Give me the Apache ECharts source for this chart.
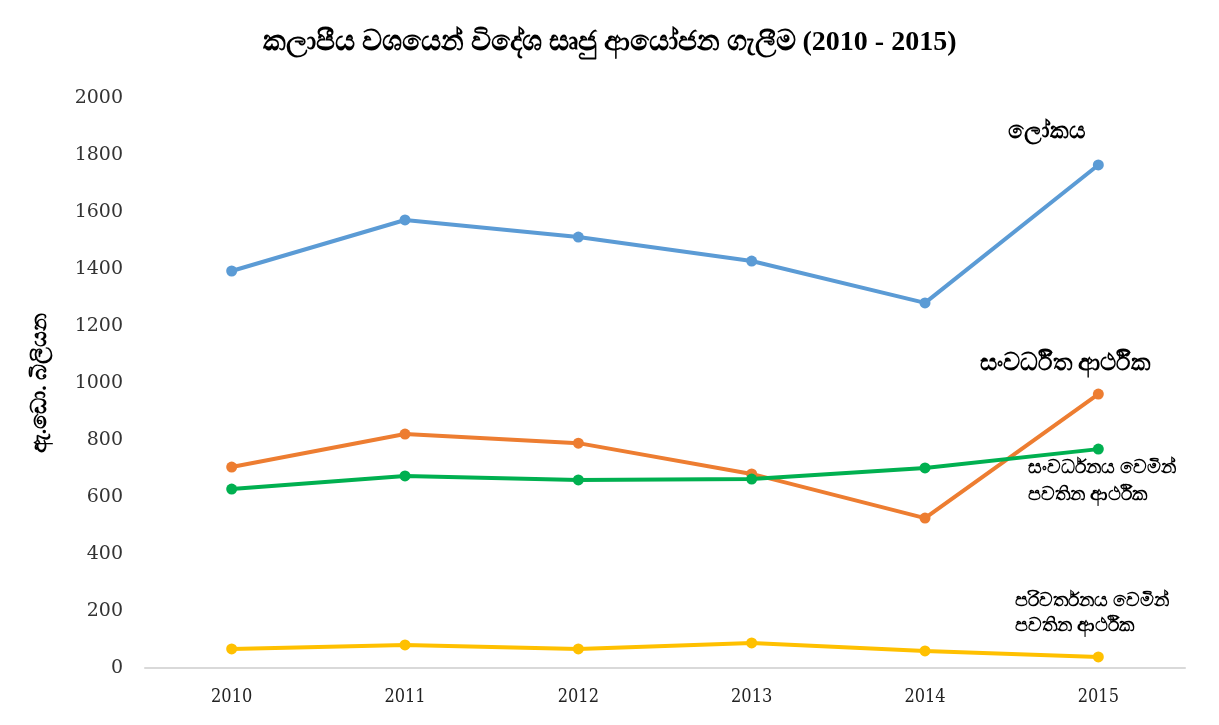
<!DOCTYPE html>
<html>
<head>
<meta charset="utf-8">
<script src="https://cdn.jsdelivr.net/npm/echarts@6/dist/echarts.min.js"></script>
<style>
  html, body { margin: 0; padding: 0; background: #fff; }
  #main { width: 1219px; height: 725px; }
</style>
</head>
<body>
<div id="main"></div>
<script>
// years on the x axis
var years = ['2010', '2011', '2012', '2013', '2014', '2015'];
// FDI inflows, US$ billion
var world = [1393, 1572, 1512, 1428, 1281, 1765];
var developed = [705, 821, 789, 681, 526, 961];
var developing = [628, 674, 660, 663, 702, 768];
var transition = [67, 81, 67, 88, 60, 39];

var seriesNames = ['ලෝකය', 'සංවර්ධිත ආර්ථික', 'සංවර්ධනය වෙමින් පවතින ආර්ථික', 'පරිවර්තනය වෙමින් පවතින ආර්ථික'];
var colors = ['#5B9BD5', '#ED7D31', '#00B050', '#FFC000'];

var serif = "'Liberation Serif', 'DejaVu Serif', serif";

function line(name, data, color) {
	return {
		name: name,
		type: 'line',
		data: data,
		symbol: 'circle',
		symbolSize: 11,
		lineStyle: { width: 4, color: color },
		itemStyle: { color: color },
		z: 3
	};
}

var myChart = echarts.init(document.getElementById('main'));

var option = {
	backgroundColor: '#fff',
	animation: false,
	title: {
		text: 'කලාපීය වශයෙන් විදේශ සෘජු ආයෝජන ගැලීම (2010 - 2015)',
		left: 'center',
		top: 24,
		textStyle: { fontFamily: serif, fontSize: 28, fontWeight: 'bold', color: '#000' }
	},
	grid: { left: 145, right: 34, top: 98, bottom: 57 },
	xAxis: {
		type: 'category',
		data: years,
		boundaryGap: true,
		axisLine: { lineStyle: { color: '#d9d9d9', width: 2 } },
		axisTick: { show: false },
		axisLabel: { margin: 20, fontFamily: "'DejaVu Serif Condensed', 'Liberation Serif', serif", fontSize: 18, color: '#222' }
	},
	yAxis: {
		type: 'value',
		min: 0,
		max: 2000,
		interval: 200,
		name: 'ඇ.ඩො. බිලියන',
		nameLocation: 'middle',
		nameGap: 94,
		nameRotate: 90,
		nameTextStyle: { fontFamily: serif, fontSize: 22, fontWeight: 'bold', color: '#000' },
		axisLine: { show: false },
		axisTick: { show: false },
		splitLine: { show: false },
		axisLabel: {
			margin: 22,
			fontFamily: "'DejaVu Serif', serif",
			fontSize: 19,
			color: '#333',
			formatter: function (v) { return String(v); }
		}
	},
	graphic: [
		{ type: 'text', left: 1008, top: 121, style: { text: seriesNames[0], font: 'bold 23px ' + serif, fill: '#000' } },
		{ type: 'text', left: 980, top: 352, style: { text: seriesNames[1], font: 'bold 24px ' + serif, fill: '#000' } },
		{ type: 'text', left: 1028, top: 455, style: { text: 'සංවර්ධනය වෙමින්\nපවතින ආර්ථික', font: 'bold 19px ' + serif, fill: '#000', lineHeight: 27 } },
		{ type: 'text', left: 1015, top: 589, style: { text: 'පරිවර්තනය වෙමින්\nපවතින ආර්ථික', font: 'bold 19px ' + serif, fill: '#000', lineHeight: 25 } }
	],
	series: [
		line(seriesNames[0], world, colors[0]),
		line(seriesNames[1], developed, colors[1]),
		line(seriesNames[2], developing, colors[2]),
		line(seriesNames[3], transition, colors[3])
	]
};

myChart.setOption(option);
</script>
</body>
</html>
